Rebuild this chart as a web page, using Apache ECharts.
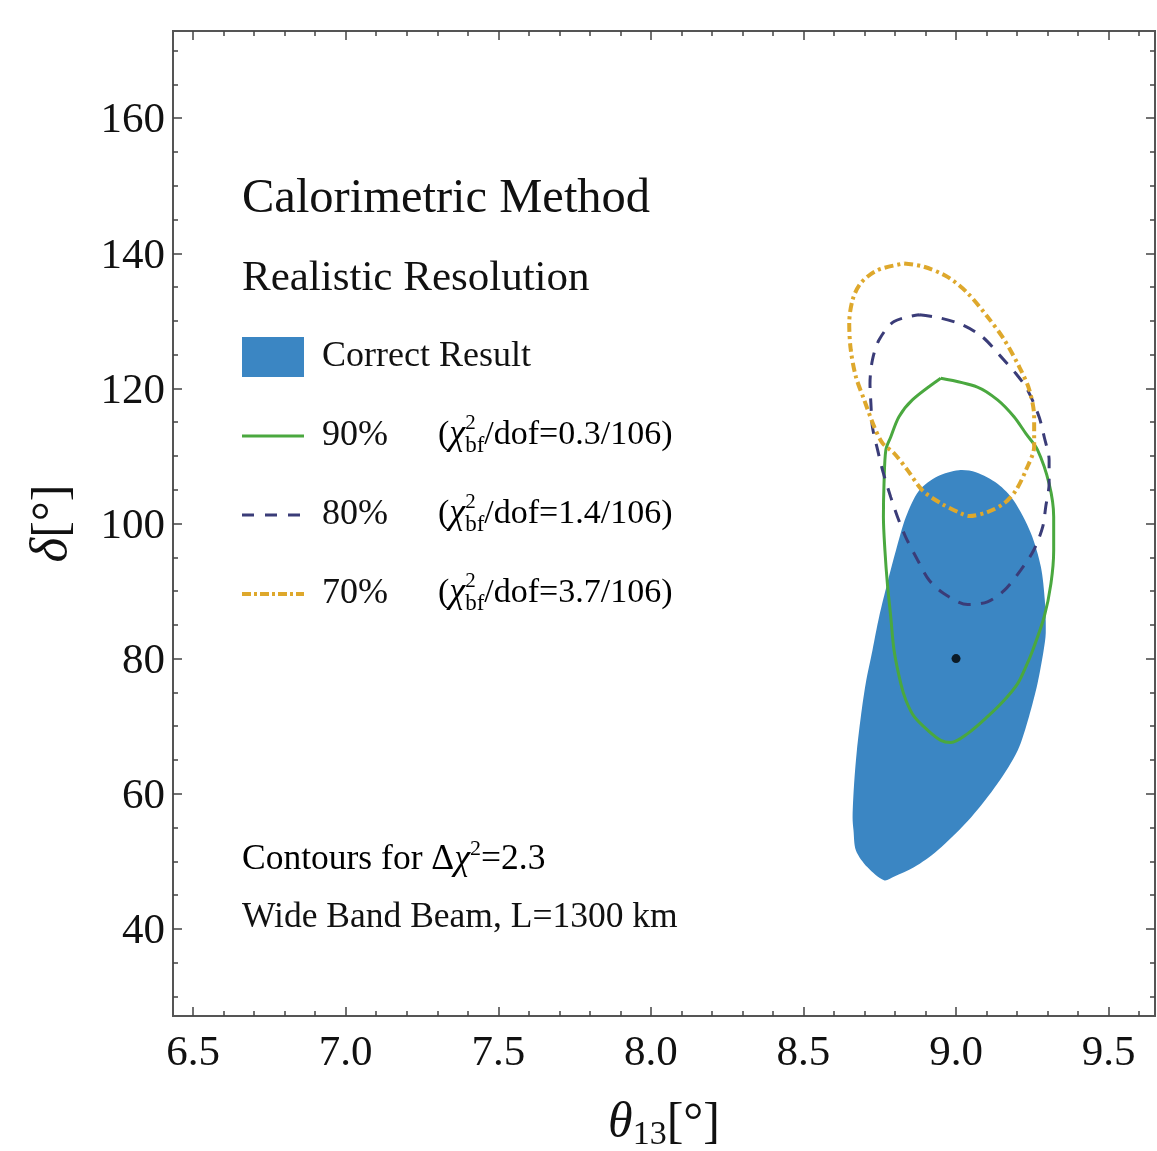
<!DOCTYPE html>
<html>
<head>
<meta charset="utf-8">
<script src="https://cdn.jsdelivr.net/npm/echarts@6/dist/echarts.min.js"></script>
<style>
  html, body { margin: 0; padding: 0; background: #fff; }
  #main { width: 1157px; height: 1151px; }
</style>
</head>
<body>
<div id="main"></div>
<script>
// axis ranges and ticks
const xRange = [6.434, 9.652];
const yRange = [27.1, 172.9];
const xTicks = [6.5, 7.0, 7.5, 8.0, 8.5, 9.0, 9.5];
const yTicks = [40, 60, 80, 100, 120, 140, 160];

// filled region: correct result (theta13, delta)
const correctResult = [
  [9.009, 107.9], [9.065, 107.6], [9.136, 105.9], [9.189, 103.4], [9.245, 98.6],
  [9.278, 93.6], [9.291, 88.6], [9.294, 83.8], [9.287, 81.2], [9.267, 76.3],
  [9.239, 71.4], [9.202, 66.4], [9.136, 61.5], [9.049, 56.5], [8.939, 51.6],
  [8.862, 49.1], [8.796, 47.7], [8.764, 47.2], [8.710, 49.1], [8.672, 51.6],
  [8.664, 54.6], [8.661, 56.5], [8.666, 61.5], [8.675, 66.4], [8.688, 71.4],
  [8.704, 76.3], [8.726, 81.2], [8.748, 86.2], [8.775, 91.2], [8.803, 96.0],
  [8.836, 101.0], [8.879, 104.9], [8.940, 107.0]
];

// 90% contour
const cl90 = [
  [8.950, 121.5], [9.070, 120.2], [9.136, 118.3], [9.190, 115.8], [9.229, 113.3],
  [9.267, 110.9], [9.305, 105.9], [9.320, 101.0], [9.320, 96.0], [9.311, 91.1],
  [9.289, 86.2], [9.251, 81.2], [9.229, 78.8], [9.202, 76.3], [9.157, 73.8],
  [9.103, 71.4], [9.038, 68.9], [8.983, 67.6], [8.950, 67.9], [8.907, 69.4],
  [8.863, 71.4], [8.836, 73.8], [8.819, 76.3], [8.797, 81.2], [8.786, 86.2],
  [8.775, 91.1], [8.767, 96.0], [8.762, 101.0], [8.764, 105.9], [8.770, 110.9],
  [8.786, 112.8], [8.813, 115.8], [8.857, 118.3], [8.950, 121.5]
];

// 80% contour
const cl80 = [
  [8.879, 130.9], [8.950, 130.4], [9.021, 129.4], [9.087, 127.6], [9.147, 124.7],
  [9.196, 122.2], [9.234, 119.8], [9.272, 115.8], [9.289, 112.8], [9.305, 109.4],
  [9.305, 105.9], [9.294, 102.5], [9.284, 99.5], [9.254, 96.0], [9.212, 93.1],
  [9.158, 90.1], [9.103, 88.4], [9.038, 88.0], [8.961, 89.6], [8.912, 91.6],
  [8.874, 94.6], [8.835, 98.0], [8.808, 101.0], [8.786, 103.9], [8.759, 107.9],
  [8.743, 110.9], [8.726, 114.3], [8.721, 117.8], [8.718, 120.7], [8.726, 124.2],
  [8.748, 127.2], [8.797, 129.9], [8.879, 130.9]
];

// 70% contour
const cl70 = [
  [8.830, 138.5], [8.895, 138.0], [8.972, 136.5], [9.038, 134.1], [9.103, 130.6],
  [9.158, 127.2], [9.207, 123.2], [9.240, 119.8], [9.256, 115.8], [9.256, 111.4],
  [9.229, 107.9], [9.196, 104.9], [9.158, 103.0], [9.103, 101.7], [9.043, 101.1],
  [9.016, 101.5], [8.950, 103.0], [8.890, 104.9], [8.841, 107.9], [8.797, 110.4],
  [8.759, 111.9], [8.732, 114.3], [8.699, 118.3], [8.672, 121.7], [8.655, 125.7],
  [8.650, 129.6], [8.661, 133.1], [8.688, 135.6], [8.743, 137.5], [8.830, 138.5]
];

const bestFit = [[9.0, 80.0]];

const legendNames = ['Correct Result', '90%', '80%', '70%'];
const chiValues = ['0.3', '1.4', '3.7'];

const serif = "'Liberation Serif', 'DejaVu Serif', serif";
const ink = '#111';
const frame = '#555';

function minorTicks(lo, hi, step) {
  const out = [];
  for (let v = Math.ceil(lo / step) * step; v <= hi; v += step) out.push(+v.toFixed(3));
  return out;
}
const xMinor = minorTicks(xRange[0], xRange[1], 0.1);
const yMinor = minorTicks(yRange[0], yRange[1], 5);

function xAxisDef(position, values, len, showLabel) {
  return {
    type: 'value', position: position, min: xRange[0], max: xRange[1],
    axisLine: { show: true, onZero: false, lineStyle: { color: frame, width: 2 } },
    axisTick: { show: true, inside: true, length: len, customValues: values, lineStyle: { color: '#444', width: 1.5 } },
    axisLabel: showLabel ? {
      show: true, customValues: xTicks, margin: 16,
      formatter: v => v.toFixed(1), fontFamily: serif, fontSize: 43, color: ink
    } : { show: false },
    splitLine: { show: false }
  };
}
function yAxisDef(position, values, len, showLabel) {
  return {
    type: 'value', position: position, min: yRange[0], max: yRange[1],
    axisLine: { show: true, onZero: false, lineStyle: { color: frame, width: 2 } },
    axisTick: { show: true, inside: true, length: len, customValues: values, lineStyle: { color: '#444', width: 1.5 } },
    axisLabel: showLabel ? {
      show: true, customValues: yTicks, margin: 8,
      formatter: v => '{a|' + v + '}',
      rich: { a: { fontFamily: serif, fontSize: 43, color: ink, padding: [6, 0, 0, 0] } }
    } : { show: false },
    splitLine: { show: false }
  };
}

const xMain = xAxisDef('bottom', xTicks, 9, true);
xMain.name = '{i|θ}{sub|13}{n|[°]}';
xMain.nameLocation = 'middle';
xMain.nameGap = 80;
xMain.nameTextStyle = {
  rich: {
    i: { fontFamily: serif, fontStyle: 'italic', fontSize: 50, color: ink, lineHeight: 56, verticalAlign: 'middle' },
    sub: { fontFamily: serif, fontSize: 34, color: ink, lineHeight: 30, verticalAlign: 'bottom' },
    n: { fontFamily: serif, fontSize: 50, color: ink, lineHeight: 56, verticalAlign: 'middle' }
  }
};
const yMain = yAxisDef('left', yTicks, 9, true);
yMain.name = '{i|δ}{n|[°]}';
yMain.nameLocation = 'middle';
yMain.nameRotate = 90;
yMain.nameGap = 94;
yMain.nameTextStyle = {
  rich: {
    i: { fontFamily: serif, fontStyle: 'italic', fontSize: 53, color: ink },
    n: { fontFamily: serif, fontSize: 50, color: ink }
  }
};

const chiRich = {
  n: { fontFamily: serif, fontSize: 34, color: ink, lineHeight: 44, verticalAlign: 'middle' },
  m: { fontFamily: serif, fontSize: 35.5, color: ink, lineHeight: 44, verticalAlign: 'middle' },
  i: { fontFamily: serif, fontSize: 36, fontStyle: 'italic', color: ink, lineHeight: 44, verticalAlign: 'middle' },
  sup: { fontFamily: serif, fontSize: 21, color: ink, lineHeight: 24, width: 0, verticalAlign: 'top' },
  supw: { fontFamily: serif, fontSize: 22, color: ink, lineHeight: 24, verticalAlign: 'top' },
  sub: { fontFamily: serif, fontSize: 23, color: ink, lineHeight: 24, verticalAlign: 'bottom' }
};

const legendRowsY = [435, 514, 593];
const graphics = [
  { type: 'text', x: 242, y: 199, style: { text: 'Calorimetric Method', font: '48.5px ' + serif, fill: ink, verticalAlign: 'middle' } },
  { type: 'text', x: 242, y: 279, style: { text: 'Realistic Resolution', font: '43px ' + serif, fill: ink, verticalAlign: 'middle' } },
  {
    type: 'text', x: 242, y: 860,
    style: { text: '{m|Contours for Δ}{i|χ}{supw|2}{m|=2.3}', rich: chiRich, verticalAlign: 'middle' }
  },
  { type: 'text', x: 242, y: 918, style: { text: 'Wide Band Beam, L=1300 km', font: '35.5px ' + serif, fill: ink, verticalAlign: 'middle' } }
];
chiValues.forEach((v, k) => {
  graphics.push({
    type: 'text', x: 438, y: legendRowsY[k],
    style: { text: '{n|(}{i|χ}{sup|2}{sub|bf}{n|/dof=' + v + '/106)}', rich: chiRich, verticalAlign: 'middle' }
  });
});

const hideSymbol = { opacity: 0, borderWidth: 0 };

const chart = echarts.init(document.getElementById('main'));
chart.setOption({
  backgroundColor: '#fff',
  animation: false,
  grid: { left: 173, right: 2, top: 31, bottom: 135, containLabel: false, outerBoundsMode: 'none' },
  xAxis: [xMain, xAxisDef('bottom', xMinor, 5, false), xAxisDef('top', xTicks, 9, false), xAxisDef('top', xMinor, 5, false)],
  yAxis: [yMain, yAxisDef('left', yMinor, 5, false), yAxisDef('right', yTicks, 9, false), yAxisDef('right', yMinor, 5, false)],
  legend: {
    orient: 'vertical', left: 240, top: 337, padding: 0,
    itemWidth: 62, itemHeight: 40, itemGap: 39, selectedMode: false,
    data: [
      { name: legendNames[0], icon: 'rect' },
      { name: legendNames[1], itemStyle: hideSymbol, lineStyle: { width: 3 } },
      { name: legendNames[2], itemStyle: hideSymbol, lineStyle: { width: 3, type: [12, 11] } },
      { name: legendNames[3], itemStyle: hideSymbol, lineStyle: { width: 4, type: [9, 3, 3, 3] } }
    ],
    textStyle: { fontFamily: serif, fontSize: 36, color: ink, lineHeight: 40, padding: [0, 0, 0, 13] }
  },
  graphic: graphics,
  series: [
    {
      name: legendNames[0], type: 'custom', data: correctResult,
      encode: { x: 0, y: 1 },
      itemStyle: { color: '#3b86c3' },
      renderItem: (params, api) => {
        if (params.dataIndex !== 0) return null;
        const pts = correctResult.map(p => api.coord(p));
        return { type: 'polygon', shape: { points: pts, smooth: 0.3 }, style: { fill: '#3b86c3' } };
      },
      z: 1
    },
    {
      name: legendNames[1], type: 'line', data: cl90, symbol: 'none', smooth: 0.3,
      itemStyle: { color: '#4aa83f' },
      lineStyle: { color: '#4aa83f', width: 3 }, z: 3
    },
    {
      name: legendNames[2], type: 'line', data: cl80, symbol: 'none', smooth: 0.3,
      itemStyle: { color: '#3a3c78' },
      lineStyle: { color: '#3a3c78', width: 3, type: [13, 10] }, z: 3
    },
    {
      name: legendNames[3], type: 'line', data: cl70, symbol: 'none', smooth: 0.3,
      itemStyle: { color: '#dea82c' },
      lineStyle: { color: '#dea82c', width: 4, type: [9, 4, 3, 4] }, z: 4
    },
    {
      name: 'best fit', type: 'scatter', data: bestFit, symbolSize: 9,
      itemStyle: { color: '#000' }, z: 5
    }
  ]
});
</script>
</body>
</html>
